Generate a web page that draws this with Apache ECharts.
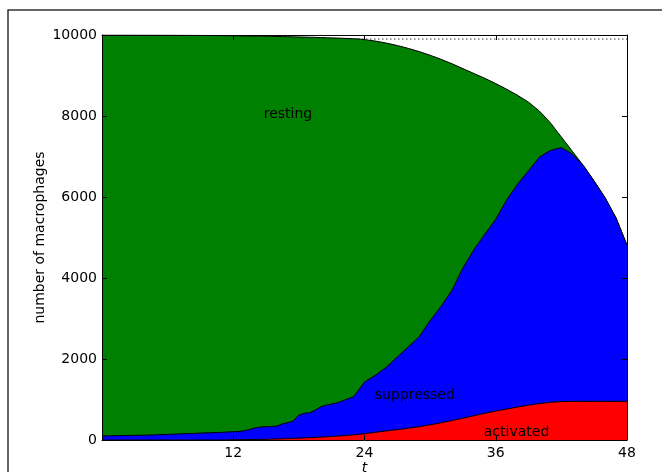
<!DOCTYPE html>
<html><head><meta charset="utf-8">
<script src="https://cdn.jsdelivr.net/npm/echarts@6/dist/echarts.min.js"></script>
<style>html,body{margin:0;padding:0;background:#fff}#c{width:662px;height:472px}</style>
</head><body><div id="c"></div>
<script>
// time points (hours)
const times = [0,1,2,3,4,5,6,7,8,9,10,11,12,12.5,13,13.5,14,14.5,15,15.5,16,16.5,17,17.5,18,18.5,19,19.5,20,20.5,21,21.5,22,22.5,23,23.5,24,
  25,26,27,28,29,30,31,32,33,34,35,36,37,38,39,40,41,42,43,44,45,46,47,48];
// number of activated macrophages
const activated = [0,0,0,0,0,0,0,0,0,0,0,0,5,6,8,10,12,15,18,22,26,30,35,40,46,52,58,65,72,80,88,97,106,116,127,140,155,
  190,225,255,290,330,375,425,480,540,600,660,715,765,815,860,900,930,950,955,955,955,955,955,955];
// number of suppressed macrophages
const suppressed = [100,105,110,115,120,130,140,150,160,170,180,190,200,204,222,250,288,305,312,313,319,370,395,435,569,608,617,675,748,780,802,823,864,904,943,1110,1275,
  1410,1575,1795,2010,2220,2575,2875,3220,3710,4100,4420,4735,5165,5505,5790,6090,6220,6270,6105,5825,5435,5025,4525,3855];
// number of resting macrophages
const resting = [9900,9895,9890,9884,9878,9867,9856,9844,9832,9820,9808,9795,9777,9770,9748,9716,9674,9652,9640,9632,9619,9561,9528,9480,9337,9288,9270,9201,9117,9073,9039,9004,8949,8894,8838,8652,8455,
  8250,8000,7690,7370,7040,6550,6100,5590,4920,4350,3850,3350,2730,2190,1690,1130,680,260,70,0,0,0,0,0];
const xTickLabels = ['12','24','36','48'];
const yTickLabels = ['0','2000','4000','6000','8000','10000'];
const refLevel = 9900;
const seriesNames = ['activated','suppressed','resting'];

const FONT = 'DejaVu Sans';
const chart = echarts.init(document.getElementById('c'), null, {renderer:'canvas'});
const colors = ['#ff0000','#0000ff','#008000'];
const comps = [activated, suppressed, resting];

// cumulative tops (stacking done here)
const tops = comps.map((arr,k)=> times.map((t,i)=>{
  let s = 0; for (let j=0;j<=k;j++) s += comps[j][i]; return [t, s];
}));

const series = tops.map((data,k)=>({
  name: seriesNames[k], type:'line', data: data,
  showSymbol:false, symbol:'none', smooth:false,
  lineStyle:{color:'#000', width:1},
  areaStyle:{color:colors[k], opacity:1, origin:'start'},
  z: 5-k, silent:true, animation:false
}));
series.push({
  type:'line', data:[[0,refLevel],[48,refLevel]], showSymbol:false, symbol:'none',
  lineStyle:{color:'#333', width:1, type:[1.5,2.5]}, z:1, silent:true, animation:false
});

const axisCommon = () => ({
  axisLine:{show:true, onZero:false, lineStyle:{color:'#000', width:1}},
  axisTick:{show:true, inside:true, length:5, lineStyle:{color:'#000', width:1}},
  splitLine:{show:false}, z:10
});
const xFmt = v => { const i = [12,24,36,48].indexOf(v); return i>=0 ? xTickLabels[i] : ''; };
const yFmt = v => { const i = v/2000; return Number.isInteger(i) ? yTickLabels[i] : ''; };

chart.setOption({
  animation:false,
  backgroundColor:'#fff',
  grid:{left:102, right:35, top:35, bottom:32, containLabel:false, outerBoundsMode:'none'},
  xAxis:[
    Object.assign(axisCommon(), {type:'value', min:0, max:48, interval:12, position:'bottom',
      name:'t', nameLocation:'middle', nameGap:21, nameMoveOverlap:false,
      nameTextStyle:{fontFamily:FONT, fontSize:14, fontStyle:'italic', color:'#000'},
      axisLabel:{formatter:xFmt, fontFamily:FONT, fontSize:14, color:'#000', margin:6}}),
    Object.assign(axisCommon(), {type:'value', min:0, max:48, interval:12, position:'top', axisLabel:{show:false}})
  ],
  yAxis:[
    Object.assign(axisCommon(), {type:'value', min:0, max:10000, interval:2000, position:'left',
      name:'number of macrophages', nameLocation:'middle', nameGap:55, nameRotate:90, nameMoveOverlap:false,
      nameTextStyle:{fontFamily:FONT, fontSize:14, color:'#000'},
      axisLabel:{formatter:yFmt, fontFamily:FONT, fontSize:14, color:'#000', margin:5}}),
    Object.assign(axisCommon(), {type:'value', min:0, max:10000, interval:2000, position:'right', axisLabel:{show:false}})
  ],
  series: series
});

const anchors = [[17,8050],[28.6,1100],[37.9,200]];
const texts = ['resting','suppressed','activated'];
const g = texts.map((t,i)=>{
  const p = chart.convertToPixel({xAxisIndex:0, yAxisIndex:0}, anchors[i]);
  return {type:'text', x:p[0], y:p[1], z:100,
    style:{text:t, fill:'#000', font:'14px "DejaVu Sans"', align:'center', verticalAlign:'middle'}};
});
g.push({type:'rect', shape:{x:8, y:10, width:700, height:500}, z:100,
  style:{fill:'none', stroke:'#333', lineWidth:1.5}});
chart.setOption({graphic:g});
</script></body></html>
